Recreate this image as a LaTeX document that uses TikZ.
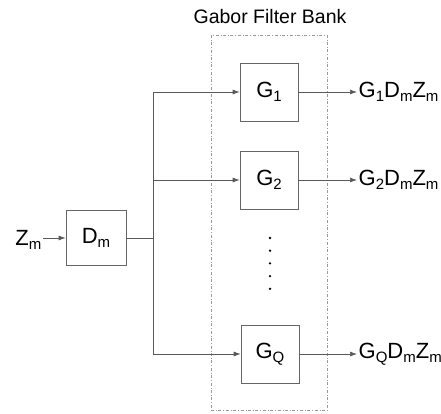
\documentclass[tikz,border=0pt]{standalone}
\usepackage{fontspec}
\setmainfont{Liberation Sans}
\usetikzlibrary{arrows.meta}
\newcommand{\sbs}[1]{\raisebox{-4.5pt}{\fontsize{15}{17}\selectfont #1}}
\tikzset{
  blk/.style={draw=black!60, line width=0.7pt, minimum width=58pt, minimum height=58pt, inner sep=0pt},
  lbl/.style={inner sep=1.5pt},
  wire/.style={draw=black!65, line width=0.7pt},
  sig/.style={wire, -{Latex[length=7pt,width=5pt]}}
}
\begin{document}
\begin{tikzpicture}[
every node/.style={font=\fontsize{22}{26}\selectfont},
x=1pt,
y=-1pt
]
\useasboundingbox (0,0) rectangle (441,414);

\node[font=\fontsize{19.5}{23}\selectfont] (title) at (270,17) {Gabor Filter Bank};
\node[draw=black!40, dash dot, minimum width=116pt, minimum height=375pt] (bank) at (269,222.5) {};

\node[lbl, anchor=east] (zin) at (43,240) {Z\sbs{m}};
\node[blk, minimum width=60pt, minimum height=55pt] (dm) at (96,238) {D\sbs{m}};

\node[blk] (g1) at (269,92) {G\sbs{1}};
\node[blk] (g2) at (269,180) {G\sbs{2}};
\node[blk] (gq) at (270,354) {G\sbs{Q}};

\coordinate (top) at (153,92);
\coordinate (bot) at (153,354);

\node[lbl, anchor=west] (o1) at (357,92) {G\sbs{1}D\sbs{m}Z\sbs{m}};
\node[lbl, anchor=west] (o2) at (357,180) {G\sbs{2}D\sbs{m}Z\sbs{m}};
\node[lbl, anchor=west] (oq) at (357,354) {G\sbs{Q}D\sbs{m}Z\sbs{m}};

\draw[sig] (zin.east |- dm) -- (dm);
\draw[wire] (dm) -- (dm -| top);
\draw[wire] (top) -- (bot);
\draw[sig] (top) -- (g1);
\draw[sig] (g2 -| top) -- (g2);
\draw[sig] (bot) -- (gq);

\draw[sig] (g1) -- (o1);
\draw[sig] (g2) -- (o2);
\draw[sig] (gq) -- (oq);

% vertical dots
\foreach \i in {0,...,4}
  \fill (270,238+12.7*\i) circle (1.3pt);
\end{tikzpicture}
\end{document}
